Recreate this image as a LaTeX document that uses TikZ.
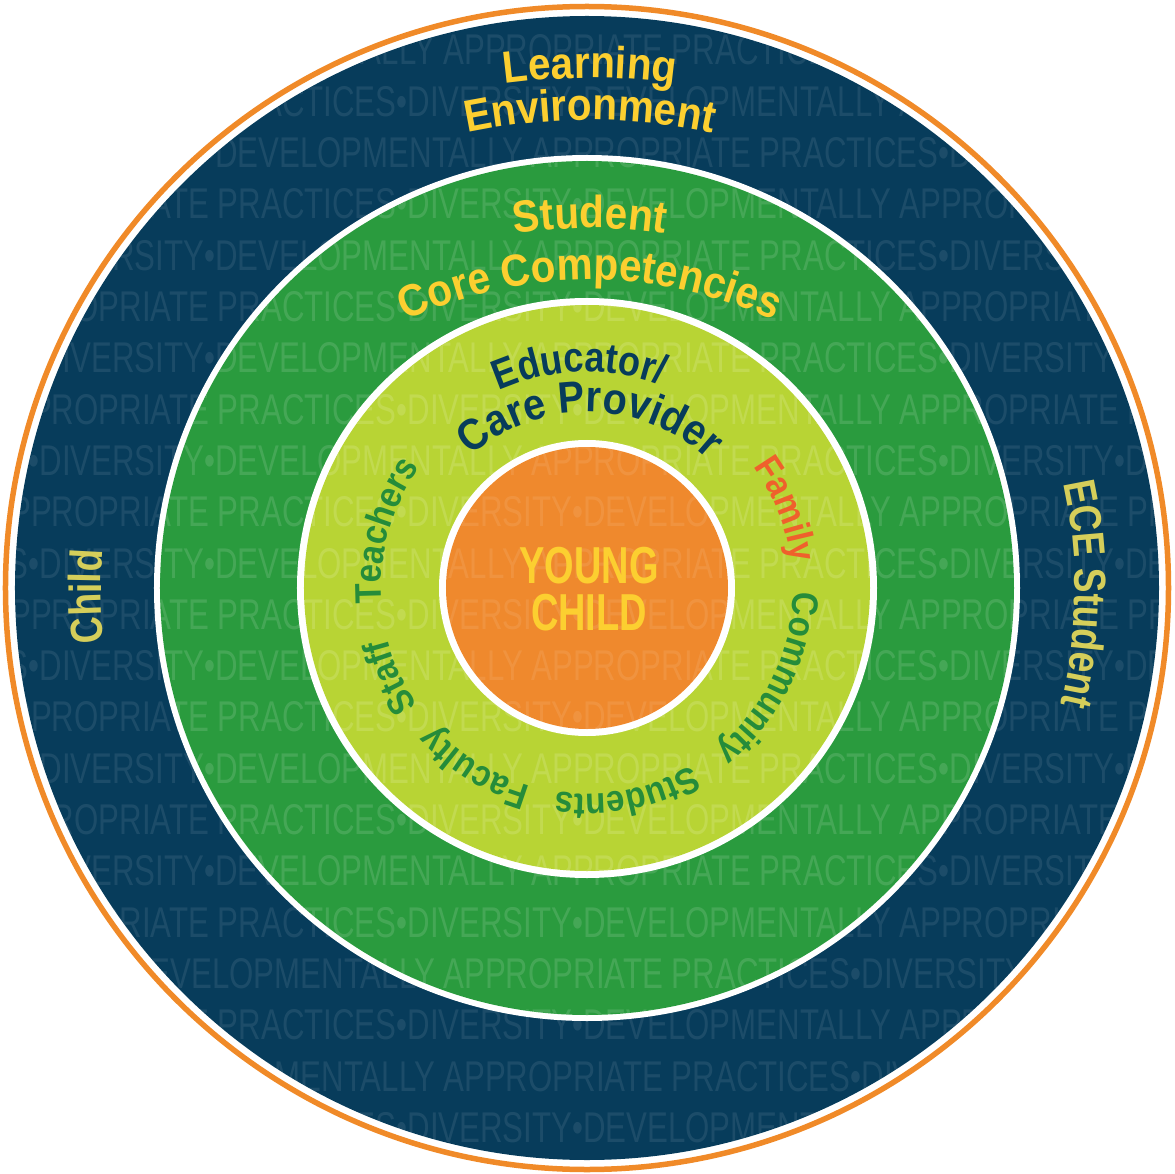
\documentclass[tikz,border=0pt]{standalone}
\usepackage{fontspec}
\setmainfont{Liberation Sans}
\newfontfamily\wmfont[FakeStretch=0.726]{Liberation Sans}
\newfontfamily\topfont[FakeStretch=0.9]{Liberation Sans}
\newfontfamily\edufont[FakeStretch=0.86]{Liberation Sans}
\newfontfamily\ringfont[FakeStretch=0.89]{Liberation Sans}
\newfontfamily\sidefont[FakeStretch=0.82]{Liberation Sans}
\newfontfamily\corefont[FakeStretch=0.73]{Liberation Sans}
\usetikzlibrary{decorations.text}

\definecolor{ringorange}{RGB}{240,138,40}
\definecolor{navy}{RGB}{7,60,91}
\definecolor{leafgreen}{RGB}{42,155,62}
\definecolor{lime}{RGB}{184,212,52}
\definecolor{coreorange}{RGB}{239,137,45}
\definecolor{gold}{RGB}{252,207,48}
\definecolor{khaki}{RGB}{213,206,90}
\definecolor{familyred}{RGB}{239,96,44}
\definecolor{labelgreen}{RGB}{37,140,58}

\def\rOuter{581.5}
\def\rNavy{572}
\def\rGreenGap{433}
\def\rGreen{427}
\def\rLimeGap{290}
\def\rLime{283}
\def\rCoreGap{148}
\def\rCore{141}

\def\wmfmt{\wmfont\fontsize{43}{43}\selectfont}
\def\topfmt{\topfont\bfseries\fontsize{45}{45}\selectfont}
\def\carefmt{\topfont\bfseries\fontsize{44}{44}\selectfont}
\def\edufmt{\edufont\bfseries\fontsize{42}{42}\selectfont}
\def\ringfmt{\ringfont\bfseries\fontsize{37}{37}\selectfont}
\def\sidefmt{\sidefont\bfseries\fontsize{45}{45}\selectfont}
\def\corefmt{\corefont\bfseries\fontsize{52}{52}\selectfont}

\def\wmtext{DEVELOPMENTALLY APPROPRIATE PRACTICES•DIVERSITY•}
\def\wmrows{%
  \foreach \k/\xd in {0/134,1/590,2/222,3/590,4/222,5/590,6/222,7/590,8/222,
      9/590,10/222,11/590,12/222,13/590,14/222,15/590,16/222,17/590,18/134,
      19/590,20/134,21/590}
    \node[wm] (wm\k) at (\xd-1504, 523-51.3*\k) {\wmtext\wmtext\wmtext};}

\begin{document}
\begin{tikzpicture}[x=1pt, y=1pt,
    wm/.style={anchor=base west, inner sep=0pt, text=white, font=\wmfmt},
    corelabel/.style={anchor=base, inner sep=0pt, text=gold, font=\corefmt},
    ringtext/.style={decorate, decoration={text along path, text align=center}}]
    \useasboundingbox (-587,-585) rectangle (588,588);

    % rings, each with its faint watermark
    \draw[ringorange, line width=5.5pt] (0,0) circle[radius=\rOuter];
    \fill[navy] (0,0) circle[radius=\rNavy];
    \begin{scope}[opacity=0.085]
        \clip (0,0) circle[radius=\rNavy];
        \wmrows
    \end{scope}
    \fill[white] (0,0) circle[radius=\rGreenGap];
    \fill[leafgreen] (0,0) circle[radius=\rGreen];
    \begin{scope}[opacity=0.13]
        \clip (0,0) circle[radius=\rGreen];
        \wmrows
    \end{scope}
    \fill[white] (0,0) circle[radius=\rLimeGap];
    \fill[lime] (0,0) circle[radius=\rLime];
    \begin{scope}[opacity=0.14]
        \clip (0,0) circle[radius=\rLime];
        \wmrows
    \end{scope}
    \fill[white] (0,0) circle[radius=\rCoreGap];
    \fill[coreorange] (0,0) circle[radius=\rCore];
    \begin{scope}[opacity=0.09]
        \clip (0,0) circle[radius=\rCore];
        \wmrows
    \end{scope}

    % titles of the outer rings
    \begin{scope}[shift={(3,-127)}]
        \path[ringtext, decoration={text={|\topfmt|Learning}, text color=gold}]
            (130:637) arc[start angle=130, end angle=50, radius=637];
        \path[ringtext, decoration={text={|\topfmt|Environment}, text color=gold}]
            (130:595) arc[start angle=130, end angle=50, radius=595];
        \path[ringtext, decoration={text={|\topfmt|Student}, text color=gold}]
            (130:487) arc[start angle=130, end angle=50, radius=487];
        \path[ringtext, decoration={text={|\topfmt|Core Competencies}, text color=gold}]
            (130:435) arc[start angle=130, end angle=50, radius=435];
    \end{scope}
    \path[ringtext, decoration={text={|\sidefmt|Child}, text color=khaki}]
        (201:486) arc[start angle=201, end angle=161, radius=486];
    \path[ringtext, decoration={text={|\sidefmt|ECE Student}, text color=khaki}]
        (19.3:488) arc[start angle=19.3, end angle=-20.7, radius=488];

    % inner ring
    \path[ringtext, decoration={text={|\edufmt|Educator/}, text color=navy}]
        (132:216) arc[start angle=132, end angle=52, radius=216];
    \path[ringtext, decoration={text={|\carefmt|Care Provider}, text color=navy}]
        (149:176) arc[start angle=149, end angle=29, radius=176];
    \path[ringtext, decoration={text={|\ringfmt|Family}, text color=familyred}]
        (61.5:206) arc[start angle=61.5, end angle=-18.5, radius=206];
    \path[ringtext, decoration={text={|\ringfmt|Community}, text color=labelgreen}]
        (13.8:206) arc[start angle=13.8, end angle=-66.2, radius=206];
    \path[ringtext, decoration={text={|\ringfmt|Students}, text color=labelgreen}]
        (-39:206) arc[start angle=-39, end angle=-119, radius=206];
    \path[ringtext, decoration={text={|\ringfmt|Faculty}, text color=labelgreen}]
        (-82:206) arc[start angle=-82, end angle=-162, radius=206];
    \path[ringtext, decoration={text={|\ringfmt|Staff}, text color=labelgreen}]
        (-115.5:206) arc[start angle=-115.5, end angle=-195.5, radius=206];
    \path[ringtext, decoration={text={|\ringfmt|Teachers}, text color=labelgreen}]
        (204.2:206) arc[start angle=204.2, end angle=124.2, radius=206];

    % centre
    \node[corelabel] (young) at (2,5) {YOUNG};
    \node[corelabel] (child) at (2,-42) {CHILD};
\end{tikzpicture}
\end{document}
